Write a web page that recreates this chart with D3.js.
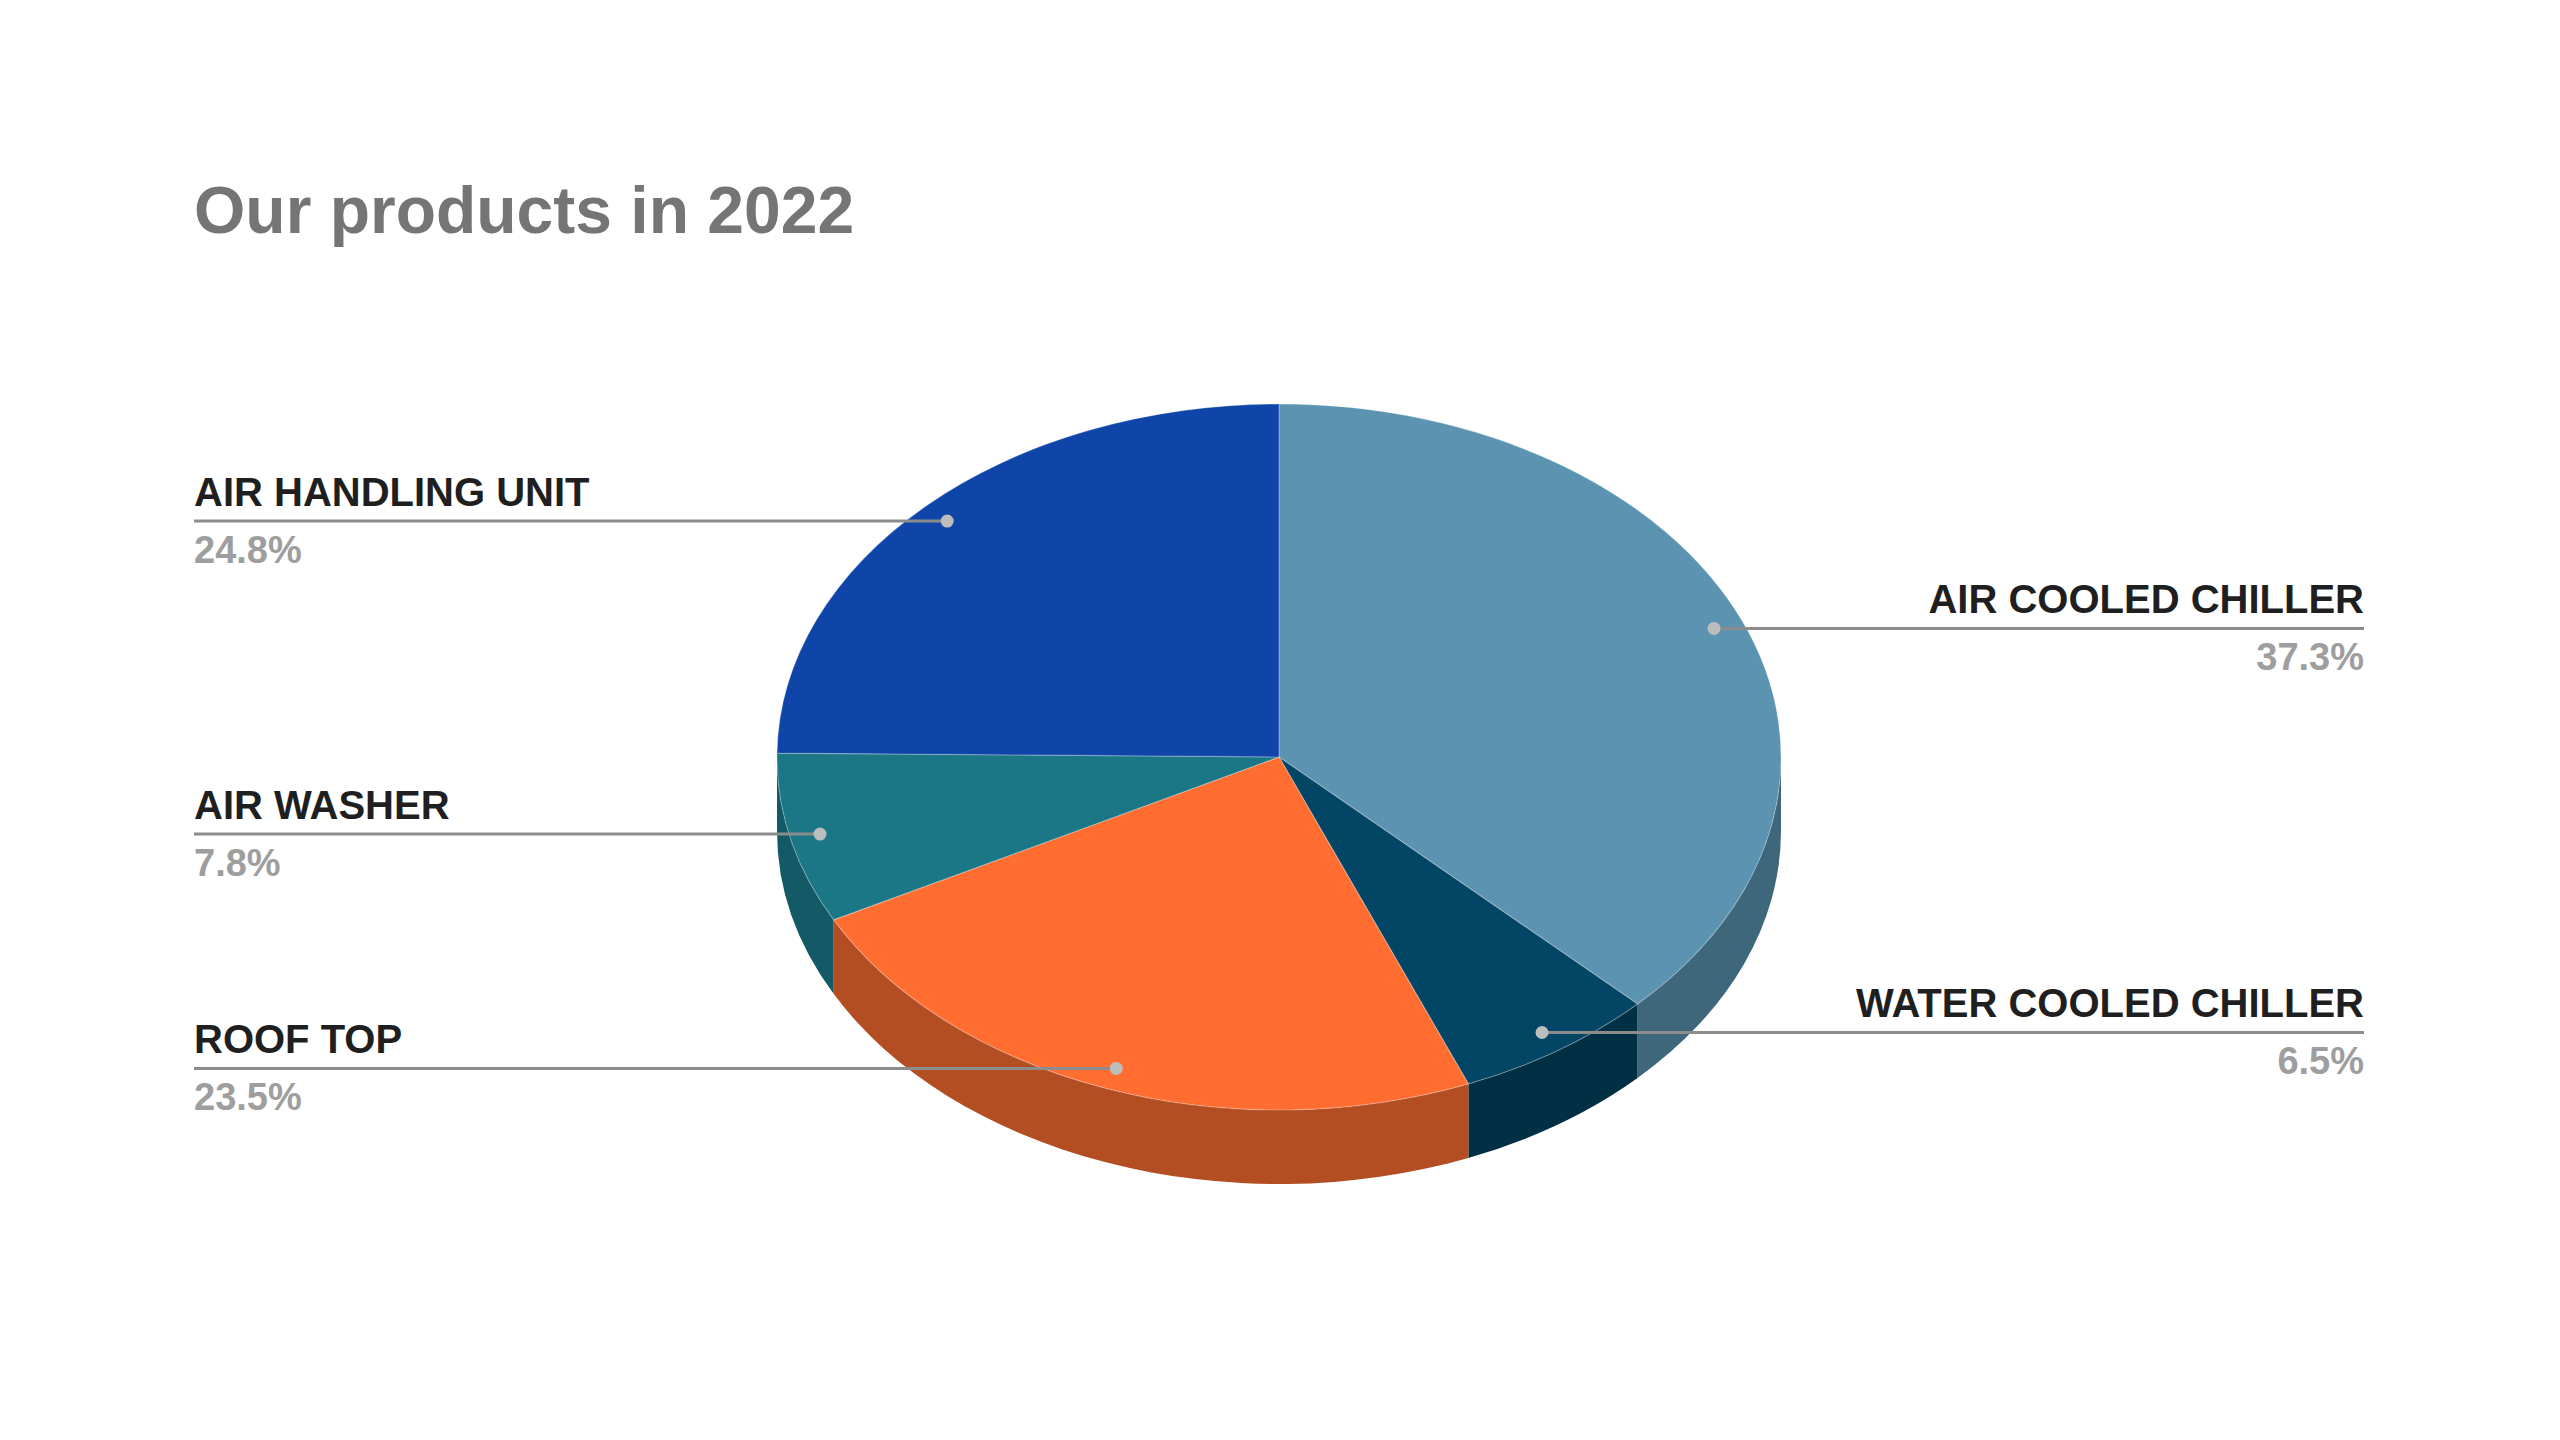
<!DOCTYPE html>
<html>
<head>
<meta charset="utf-8">
<script src="https://cdn.jsdelivr.net/npm/d3@7"></script>
<style>
  html, body { margin: 0; padding: 0; background: #ffffff; }
  svg { display: block; }
</style>
</head>
<body>
<svg id="chart" width="2560" height="1440"></svg>
<script>
// ---- data ----
const title = "Our products in 2022";
const categories = ["AIR COOLED CHILLER", "WATER COOLED CHILLER", "ROOF TOP", "AIR WASHER", "AIR HANDLING UNIT"];
const values = [37.3, 6.5, 23.5, 7.8, 24.8];

// ---- style ----
const topColors  = ["#5b93b0", "#034564", "#ff6d31", "#1b7686", "#0f44a8"];
const sideColors = ["#3f677b", "#012f44", "#b34d22", "#135a66", "#0a2f75"];

const W = 2560, H = 1440;
const cx = 1279, cy = 757, rx = 502, ry = 353, depth = 74;
const leftX = 194, rightX = 2364;

const svg = d3.select("#chart");
svg.append("rect").attr("width", W).attr("height", H).attr("fill", "#ffffff");

svg.append("text")
  .attr("x", 194).attr("y", 233)
  .attr("font-family", "'Liberation Sans', Arial, sans-serif")
  .attr("font-weight", "bold")
  .attr("font-size", 66)
  .attr("fill", "#757575")
  .text(title);

const topColor = d3.scaleOrdinal().domain(categories).range(topColors);
const sideColor = d3.scaleOrdinal().domain(categories).range(sideColors);

const data = categories.map((c, i) => ({ name: c, value: values[i] }));
const pie = d3.pie().value(d => d.value).sort(null).startAngle(0).endAngle(2 * Math.PI);
const arcs = pie(data);

function pt(a, r = 1, dy = 0) {
  return [cx + rx * r * Math.sin(a), cy - ry * r * Math.cos(a) + dy];
}

const g = svg.append("g");

// side faces (front half only)
arcs.forEach(d => {
  const s = Math.max(d.startAngle, Math.PI / 2);
  const e = Math.min(d.endAngle, 3 * Math.PI / 2);
  if (e <= s) return;
  const p0 = pt(s), p1 = pt(e), q1 = pt(e, 1, depth), q0 = pt(s, 1, depth);
  const large = (e - s) > Math.PI ? 1 : 0;
  const path = `M${p0[0]},${p0[1]} A${rx},${ry} 0 ${large} 1 ${p1[0]},${p1[1]} L${q1[0]},${q1[1]} A${rx},${ry} 0 ${large} 0 ${q0[0]},${q0[1]} Z`;
  g.append("path").attr("d", path).attr("fill", sideColor(d.data.name));
});

// top faces
arcs.forEach(d => {
  const p0 = pt(d.startAngle), p1 = pt(d.endAngle);
  const large = (d.endAngle - d.startAngle) > Math.PI ? 1 : 0;
  const path = `M${cx},${cy} L${p0[0]},${p0[1]} A${rx},${ry} 0 ${large} 1 ${p1[0]},${p1[1]} Z`;
  g.append("path").attr("d", path)
    .attr("fill", topColor(d.data.name))
    .attr("stroke", "rgba(255,255,255,0.25)")
    .attr("stroke-width", 1.2)
    .attr("stroke-linejoin", "round");
});

// labels
const fmt = d3.format(".1f");
const lab = svg.append("g");
arcs.forEach(d => {
  const mid = (d.startAngle + d.endAngle) / 2;
  const [dx, dy] = pt(mid, 0.94);
  const left = dx < cx;
  const lx = left ? leftX : rightX;
  lab.append("line")
    .attr("x1", lx).attr("y1", dy).attr("x2", dx).attr("y2", dy)
    .attr("stroke", "#8c8c8c").attr("stroke-width", 3);
  lab.append("circle")
    .attr("cx", dx).attr("cy", dy).attr("r", 6.5)
    .attr("fill", "#bdbdbd");
  lab.append("text")
    .attr("x", lx).attr("y", dy - 15)
    .attr("text-anchor", left ? "start" : "end")
    .attr("font-family", "'Liberation Sans', Arial, sans-serif")
    .attr("font-weight", "bold")
    .attr("font-size", 40)
    .attr("fill", "#1f1f1f")
    .text(d.data.name);
  lab.append("text")
    .attr("x", lx).attr("y", dy + 42)
    .attr("text-anchor", left ? "start" : "end")
    .attr("font-family", "'Liberation Sans', Arial, sans-serif")
    .attr("font-weight", "bold")
    .attr("font-size", 38)
    .attr("fill", "#9e9e9e")
    .text(fmt(d.data.value) + "%");
});
</script>
</body>
</html>
